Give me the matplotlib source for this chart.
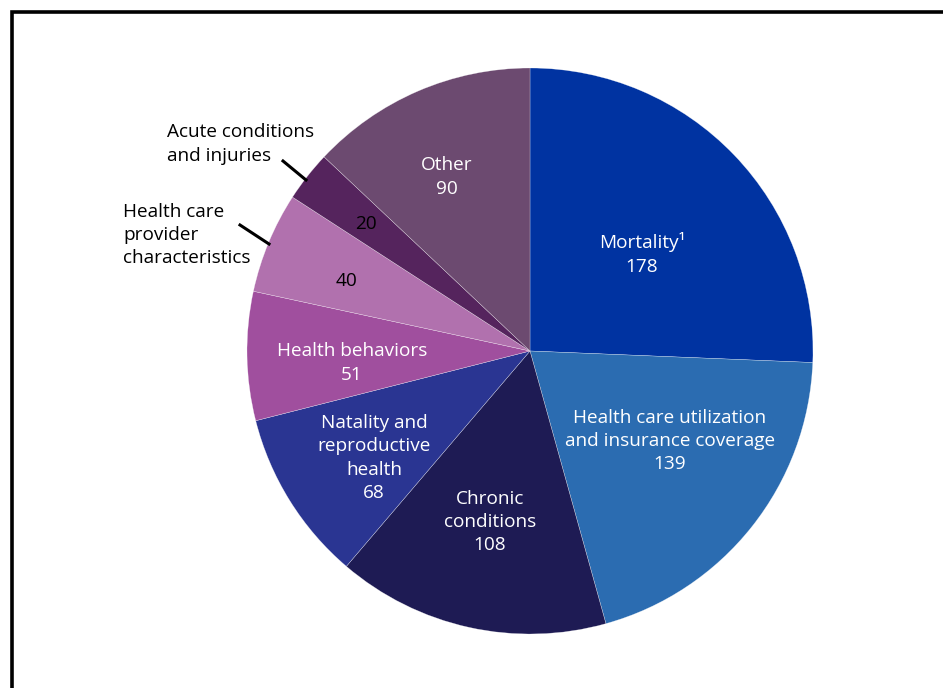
import matplotlib
matplotlib.use("Agg")
import matplotlib.pyplot as plt

plt.rcParams["font.family"] = ["Open Sans", "DejaVu Sans"]

W, H = 943, 688

categories = [
    "Mortality\u00b9",
    "Health care utilization\nand insurance coverage",
    "Chronic\nconditions",
    "Natality and\nreproductive\nhealth",
    "Health behaviors",
    "Health care\nprovider\ncharacteristics",
    "Acute conditions\nand injuries",
    "Other",
]
counts = [178, 139, 108, 68, 51, 40, 20, 90]
colors = ["#0033A1", "#2B6CB1", "#1E1B54", "#2A3592",
          "#A04F9E", "#B171AE", "#55245D", "#6C4A70"]

fig = plt.figure(figsize=(W / 100, H / 100), dpi=100)
ax = fig.add_axes([0, 0, 1, 1])

cx, cy, r = 530, H - 351, 283
ax.pie(counts, colors=colors, startangle=90, counterclock=False,
       center=(cx, cy), radius=r, frame=True,
       wedgeprops=dict(edgecolor=(1, 1, 1, 0.6), linewidth=0.3))
ax.set_xlim(0, W)
ax.set_ylim(0, H)
ax.set_aspect("equal")
ax.axis("off")

fs = 13.7
ls = 1.36

def lab(x, y, s, color="white", ha="center"):
    ax.text(x, H - y, s, color=color, fontsize=fs, ha=ha, va="center",
            multialignment=ha, linespacing=ls)

# inside labels (x, y = centre of text block in pixel coords from top)
lab(642, 254, categories[0] + "\n" + str(counts[0]))
lab(670, 441, categories[1] + "\n" + str(counts[1]))
lab(490, 522, categories[2] + "\n" + str(counts[2]))
lab(374, 458, categories[3] + "\n" + str(counts[3]))
lab(352, 363, categories[4] + "\n" + str(counts[4]))
lab(346, 281, str(counts[5]), color="black")
lab(366, 224, str(counts[6]), color="black")
lab(447, 177, categories[7] + "\n" + str(counts[7]))

# outside labels with leader lines
ax.text(167, H - 144, categories[6], color="black", fontsize=fs,
        ha="left", va="center", linespacing=ls)
ax.plot([283, 306], [H - 161, H - 180], color="black", lw=2.2)
ax.text(123, H - 235, categories[5], color="black", fontsize=fs,
        ha="left", va="center", linespacing=ls)
ax.plot([240, 269], [H - 225, H - 244], color="black", lw=2.2)

# frame (cropped on right and bottom)
ax.plot([W + 5, 11.5, 11.5], [H - 11.5, H - 11.5, -5], color="black",
        lw=2.6, solid_joinstyle="miter", clip_on=False)

fig.savefig("out.png", dpi=100, facecolor="white")
